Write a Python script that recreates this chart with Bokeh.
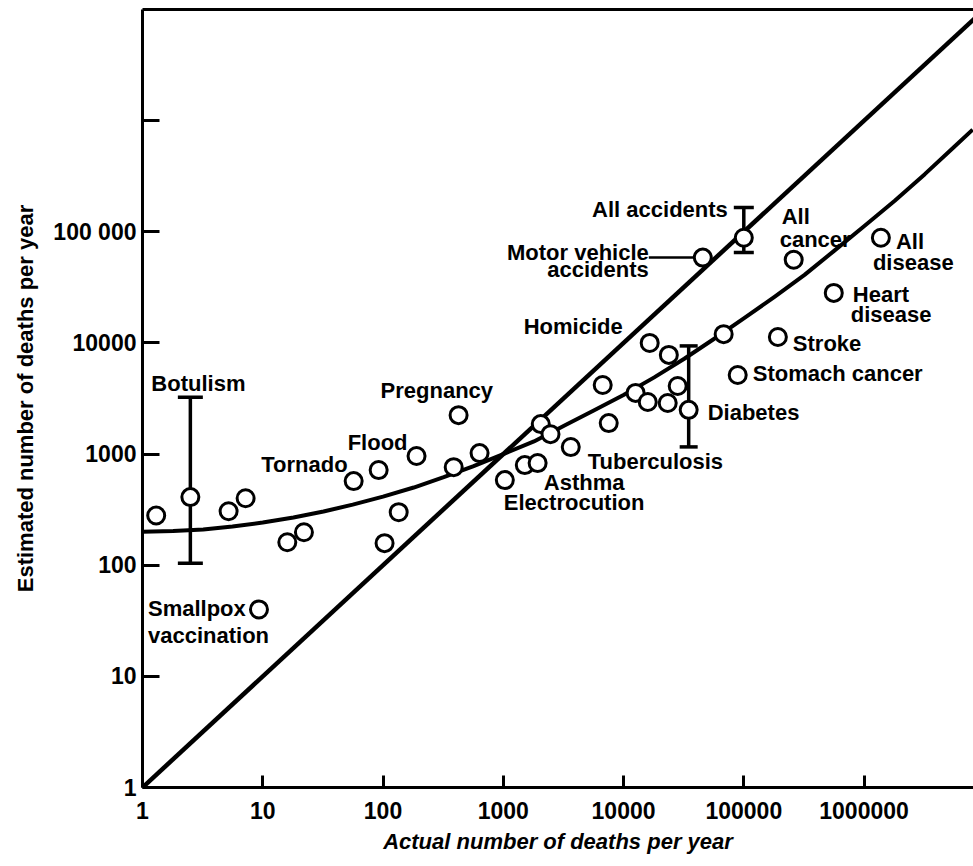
from bokeh.plotting import figure
from bokeh.models import LogAxis, FixedTicker, Range1d, ColumnDataSource
from bokeh.embed import file_html
from bokeh.resources import INLINE
from bokeh.core.properties import value

# ---- data ----
names = ["", "Botulism", "", "", "Smallpox vaccination", "", "", "Tornado", "", "Flood",
         "", "", "", "Pregnancy", "", "Electrocution", "Asthma", "", "", "",
         "Tuberculosis", "", "", "", "", "", "", "Homicide", "", "Diabetes",
         "", "Stomach cancer", "Stroke", "Heart disease", "All disease", "All cancer",
         "All accidents", "Motor vehicle accidents"]
actual = [1.3, 2.5, 5.2, 7.2, 9.3, 16, 22, 57, 92, 190,
          103, 135, 387, 425, 635, 1030, 1510, 1930, 2050, 2470,
          3640, 6710, 7530, 12600, 15900, 23300, 28200, 16500, 23800, 34800,
          68000, 89000, 192000, 560000, 1380000, 260000,
          100000, 45600]
estimated = [280, 410, 306, 400, 40, 161, 198, 571, 718, 960,
             158, 300, 763, 2240, 1020, 583, 796, 830, 1860, 1510,
             1156, 4180, 1900, 3550, 2940, 2880, 4100, 10000, 7800, 2500,
             12000, 5140, 11300, 28200, 88300, 56000,
             88300, 58600]

err_names = ["Botulism", "Diabetes", "All accidents"]
err_x = [2.5, 34800, 100000]
err_low = [104, 1160, 65000]
err_high = [3250, 9400, 165000]

diag_x = [1, 1e7]
diag_y = [1, 1e7]

curve_x = [1, 1.8, 3.2, 5.6, 10, 18, 32, 56, 100, 180, 320, 560, 1000, 1800, 3200,
           5600, 10000, 18000, 32000, 56000, 100000, 180000, 320000, 560000,
           1000000, 1800000, 3200000, 5600000, 8000000]
curve_y = [200, 203, 210, 223, 242, 269, 304, 351, 414, 500, 619, 776, 1000, 1300, 1800,
           2450, 3400, 4900, 7200, 10800, 16600, 26000, 41000, 67000,
           112000, 190000, 330000, 580000, 830000]

x_ticks = [1, 10, 100, 1000, 10000, 100000, 1000000]
x_tick_labels = ["1", "10", "100", "1000", "10000", "100000", "1000000"]
y_ticks = [1, 10, 100, 1000, 10000, 100000, 1000000]
y_tick_labels = ["1", "10", "100", "1000", "10000", "100 000", ""]

# label text, anchor point name, pixel offsets, alignment
labels = [
    ("Botulism", "Botulism", -39, -114, "left"),
    ("Smallpox", "Smallpox vaccination", -111, -1, "left"),
    ("vaccination", "Smallpox vaccination", -111, 26, "left"),
    ("Tornado", "Tornado", -6, -17, "right"),
    ("Flood", "Flood", -9, -14, "right"),
    ("Pregnancy", "Pregnancy", -78, -25, "left"),
    ("Homicide", "Homicide", -27, -16, "right"),
    ("Motor vehicle", "Motor vehicle accidents", -54, -5, "right"),
    ("accidents", "Motor vehicle accidents", -54, 12, "right"),
    ("All accidents", "All accidents", -16, -28, "right"),
    ("All", "All cancer", -12, -43, "left"),
    ("cancer", "All cancer", -14, -20, "left"),
    ("All", "All disease", 15, 4, "left"),
    ("disease", "All disease", -8, 25, "left"),
    ("Heart", "Heart disease", 19, 2, "left"),
    ("disease", "Heart disease", 17, 22, "left"),
    ("Stroke", "Stroke", 15, 6, "left"),
    ("Stomach cancer", "Stomach cancer", 15, -2, "left"),
    ("Diabetes", "Diabetes", 19, 3, "left"),
    ("Tuberculosis", "Tuberculosis", 17, 14, "left"),
    ("Asthma", "Asthma", 19, 17, "left"),
    ("Electrocution", "Electrocution", -1, 22, "left"),
]

FONT = "Liberation Sans"
X_DECADES = 6.91
PX_PER_DECADE = 831 / X_DECADES

p = figure(width=973, height=866, x_axis_type="log", y_axis_type="log",
           x_range=Range1d(1, 10 ** X_DECADES), y_range=Range1d(1, 1e7),
           output_backend="svg", toolbar_location=None,
           min_border_left=142, min_border_right=0, min_border_top=9, min_border_bottom=79)
p.outline_line_color = None
p.grid.visible = False
p.background_fill_color = "white"
p.border_fill_color = "white"

# axes
p.xaxis.ticker = FixedTicker(ticks=x_ticks)
p.xaxis.major_label_overrides = {t: l for t, l in zip(x_ticks, x_tick_labels)}
p.yaxis.ticker = FixedTicker(ticks=y_ticks)
p.yaxis.major_label_overrides = {t: l for t, l in zip(y_ticks, y_tick_labels)}
for ax in (p.xaxis, p.yaxis):
    ax.axis_line_width = 3
    ax.axis_line_color = "black"
    ax.major_tick_line_width = 3
    ax.major_tick_line_color = "black"
    ax.major_tick_out = 0
    ax.minor_tick_in = 0
    ax.minor_tick_out = 0
    ax.major_label_text_font = FONT
    ax.major_label_text_font_style = "bold"
    ax.major_label_text_font_size = "23px"
    ax.major_label_text_color = "black"
    ax.axis_label_text_font = FONT
    ax.axis_label_text_font_size = "22px"
    ax.axis_label_text_color = "black"
p.xaxis.major_tick_in = 12
p.yaxis.major_tick_in = 17
p.xaxis.major_label_standoff = 14
p.yaxis.major_label_standoff = 6
p.xaxis.axis_label = "Actual number of deaths per year"
p.xaxis.axis_label_text_font_style = "bold italic"
p.xaxis.axis_label_standoff = 7
p.yaxis.axis_label = "Estimated number of deaths per year"
p.yaxis.axis_label_text_font_style = "bold"
p.yaxis.axis_label_standoff = 12

top = LogAxis(ticker=FixedTicker(ticks=[]), axis_line_width=3, axis_line_color="black",
              major_tick_in=0, major_tick_out=0, minor_tick_in=0, minor_tick_out=0,
              major_label_text_font_size="0px")
p.add_layout(top, "above")

# reference lines
p.line(diag_x, diag_y, line_width=4.5, line_color="black")
p.line(curve_x, curve_y, line_width=4, line_color="black", line_join="round")

# error bars
p.segment(x0=err_x, y0=err_low, x1=err_x, y1=err_high, line_width=3.5, line_color="black")
p.scatter(x=err_x + err_x, y=err_low + err_high, marker="dash",
          size=[25, 18, 20, 25, 18, 20], line_width=3.5, line_color="black")

# leader line for motor vehicle accidents
mv = names.index("Motor vehicle accidents")
p.segment(x0=[actual[mv] * 10 ** (-54 / PX_PER_DECADE)], y0=[estimated[mv]],
          x1=[actual[mv]], y1=[estimated[mv]], line_width=2.5, line_color="black")

# points
p.scatter(actual, estimated, size=17, fill_color="white", line_color="black", line_width=3)

# labels
for align in ("left", "right"):
    rows = [l for l in labels if l[4] == align]
    src = ColumnDataSource(dict(
        x=[actual[names.index(r[1])] for r in rows],
        y=[estimated[names.index(r[1])] for r in rows],
        text=[r[0] for r in rows],
        dx=[r[2] for r in rows],
        dy=[r[3] for r in rows],
    ))
    p.text(x="x", y="y", text="text", x_offset="dx", y_offset="dy", source=src,
           text_align=align, text_baseline="middle", text_font=value(FONT),
           text_font_style="bold", text_font_size="22px", text_color="black")

open("out.html", "w").write(file_html(p, INLINE))
